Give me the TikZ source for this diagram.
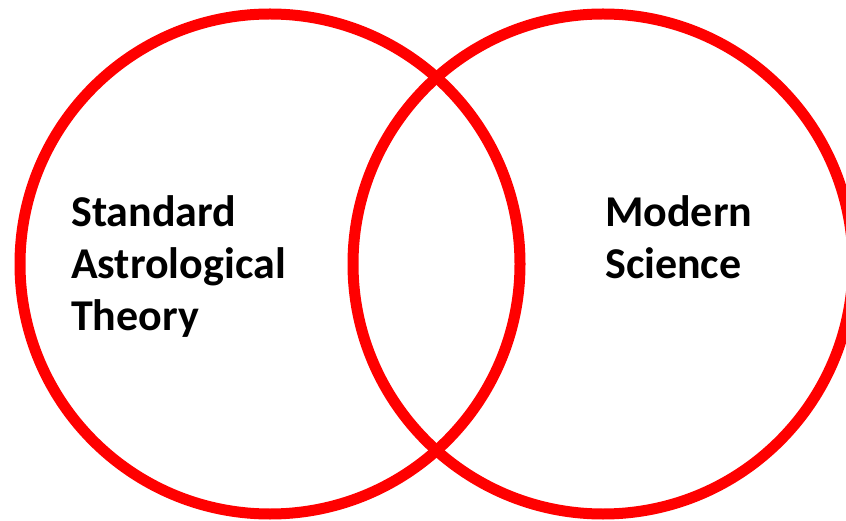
\documentclass[tikz,border=0pt]{standalone}
\usepackage{fontspec}
\setmainfont{Carlito}
\usepackage{tikz}
\usetikzlibrary{positioning}

\begin{document}
\begin{tikzpicture}[x=1pt,y=-1pt,
  ring/.style={circle,draw=red,line width=11pt,minimum size=500pt,inner sep=0pt},
  lbl/.style={align=left,anchor=north west,inner sep=0pt,font=\bfseries\fontsize{44}{52}\selectfont}]

 \useasboundingbox (0,0) rectangle (846,521);

 % the two sets
 \node[ring] (astro) at (270,264) {};
 \node[ring] (sci) at (603,264) {};

 % set names
 \node[lbl] (astrotxt) at (71,195) {Standard\\Astrological\\Theory};
 \node[lbl] (scitxt) at (605,195) {Modern\\Science};
\end{tikzpicture}
\end{document}
